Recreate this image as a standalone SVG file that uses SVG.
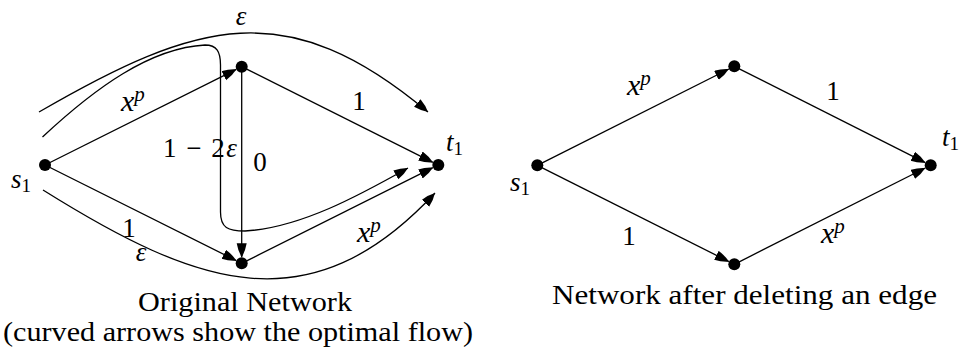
<svg xmlns="http://www.w3.org/2000/svg" width="959" height="355" viewBox="0 0 959 355">
<style>
.e{fill:none;stroke:#000;stroke-width:1.3}
.n{fill:#000}
text{font-family:"Liberation Serif","Times New Roman",serif;font-size:27px;fill:#000}
.i{font-style:italic}
.s{font-size:19px}
.x{font-size:30px}
.p{font-size:21px}
</style>
<defs>
<marker id="a" markerUnits="userSpaceOnUse" markerWidth="15" markerHeight="11" refX="14" refY="5" orient="auto" viewBox="0 0 15 11">
<path d="M0,0 Q8,1.4 14,5 Q8,8.6 0,10 Z" fill="#000"/>
</marker>
</defs>
<g id="connectors">
<line class="e" x1="45" y1="165" x2="236.3" y2="69.4" marker-end="url(#a)"/>
<line class="e" x1="241.7" y1="66.7" x2="432.9" y2="162.3" marker-end="url(#a)"/>
<line class="e" x1="241.7" y1="66.7" x2="241.7" y2="257.3" marker-end="url(#a)"/>
<line class="e" x1="45" y1="165" x2="236.3" y2="260.6" marker-end="url(#a)"/>
<line class="e" x1="241.7" y1="263.3" x2="432.9" y2="167.7" marker-end="url(#a)"/>
<path class="e" d="M39,112 C198,20 287,-6 428,112" marker-end="url(#a)"/>
<path class="e" d="M42.5,137 C95,88 150,48 205,45 C217,45 220.5,52 220.5,65 L220.5,212 C220.5,228 228,231 245,231 C300,228 360,195 408,168" marker-end="url(#a)"/>
<path class="e" d="M43,190 C198,287 310,327 435,193" marker-end="url(#a)"/>
<line class="e" x1="537.3" y1="165.3" x2="728.9" y2="69" marker-end="url(#a)"/>
<line class="e" x1="734.3" y1="66.3" x2="925.3" y2="162.6" marker-end="url(#a)"/>
<line class="e" x1="537.3" y1="165.3" x2="728.9" y2="261.6" marker-end="url(#a)"/>
<line class="e" x1="734.3" y1="264.3" x2="925.3" y2="168" marker-end="url(#a)"/>
</g>
<g id="L_s1"><circle class="n" cx="45" cy="165" r="6"/><text x="11" y="188"><tspan class="i">s</tspan><tspan class="s" dy="4">1</tspan></text></g>
<g id="L_top"><circle class="n" cx="241.7" cy="66.7" r="6"/></g>
<g id="L_bot"><circle class="n" cx="241.7" cy="263.3" r="6"/></g>
<g id="L_t1"><circle class="n" cx="438.3" cy="165" r="6"/><text x="446" y="151"><tspan class="i">t</tspan><tspan class="s" dy="4">1</tspan></text></g>
<g id="R_s1"><circle class="n" cx="537.3" cy="165.3" r="6"/><text x="510" y="191"><tspan class="i">s</tspan><tspan class="s" dy="4">1</tspan></text></g>
<g id="R_top"><circle class="n" cx="734.3" cy="66.3" r="6"/></g>
<g id="R_bot"><circle class="n" cx="734.3" cy="264.3" r="6"/></g>
<g id="R_t1"><circle class="n" cx="930.7" cy="165.3" r="6"/><text x="942" y="146"><tspan class="i">t</tspan><tspan class="s" dy="4">1</tspan></text></g>
<g id="labels">
<text x="241" y="25" text-anchor="middle" class="i">ε</text>
<text x="121" y="111"><tspan class="i x">x</tspan><tspan class="p i" dy="-10">p</tspan></text>
<text x="359" y="110" text-anchor="middle">1</text>
<text x="163" y="157" textLength="74">1 − 2<tspan class="i">ε</tspan></text>
<text x="260" y="171" text-anchor="middle">0</text>
<text x="129" y="237" text-anchor="middle">1</text>
<text x="141" y="261" text-anchor="middle" class="i">ε</text>
<text x="357" y="242"><tspan class="i x">x</tspan><tspan class="p i" dy="-10">p</tspan></text>
<text x="627" y="95"><tspan class="i x">x</tspan><tspan class="p i" dy="-10">p</tspan></text>
<text x="833" y="100" text-anchor="middle">1</text>
<text x="629" y="245" text-anchor="middle">1</text>
<text x="821" y="243"><tspan class="i x">x</tspan><tspan class="p i" dy="-10">p</tspan></text>
<text x="138" y="311" textLength="214" lengthAdjust="spacingAndGlyphs">Original Network</text>
<text x="3" y="341" textLength="470" lengthAdjust="spacingAndGlyphs">(curved arrows show the optimal flow)</text>
<text x="552" y="304" textLength="385" lengthAdjust="spacingAndGlyphs">Network after deleting an edge</text>
</g>
</svg>
